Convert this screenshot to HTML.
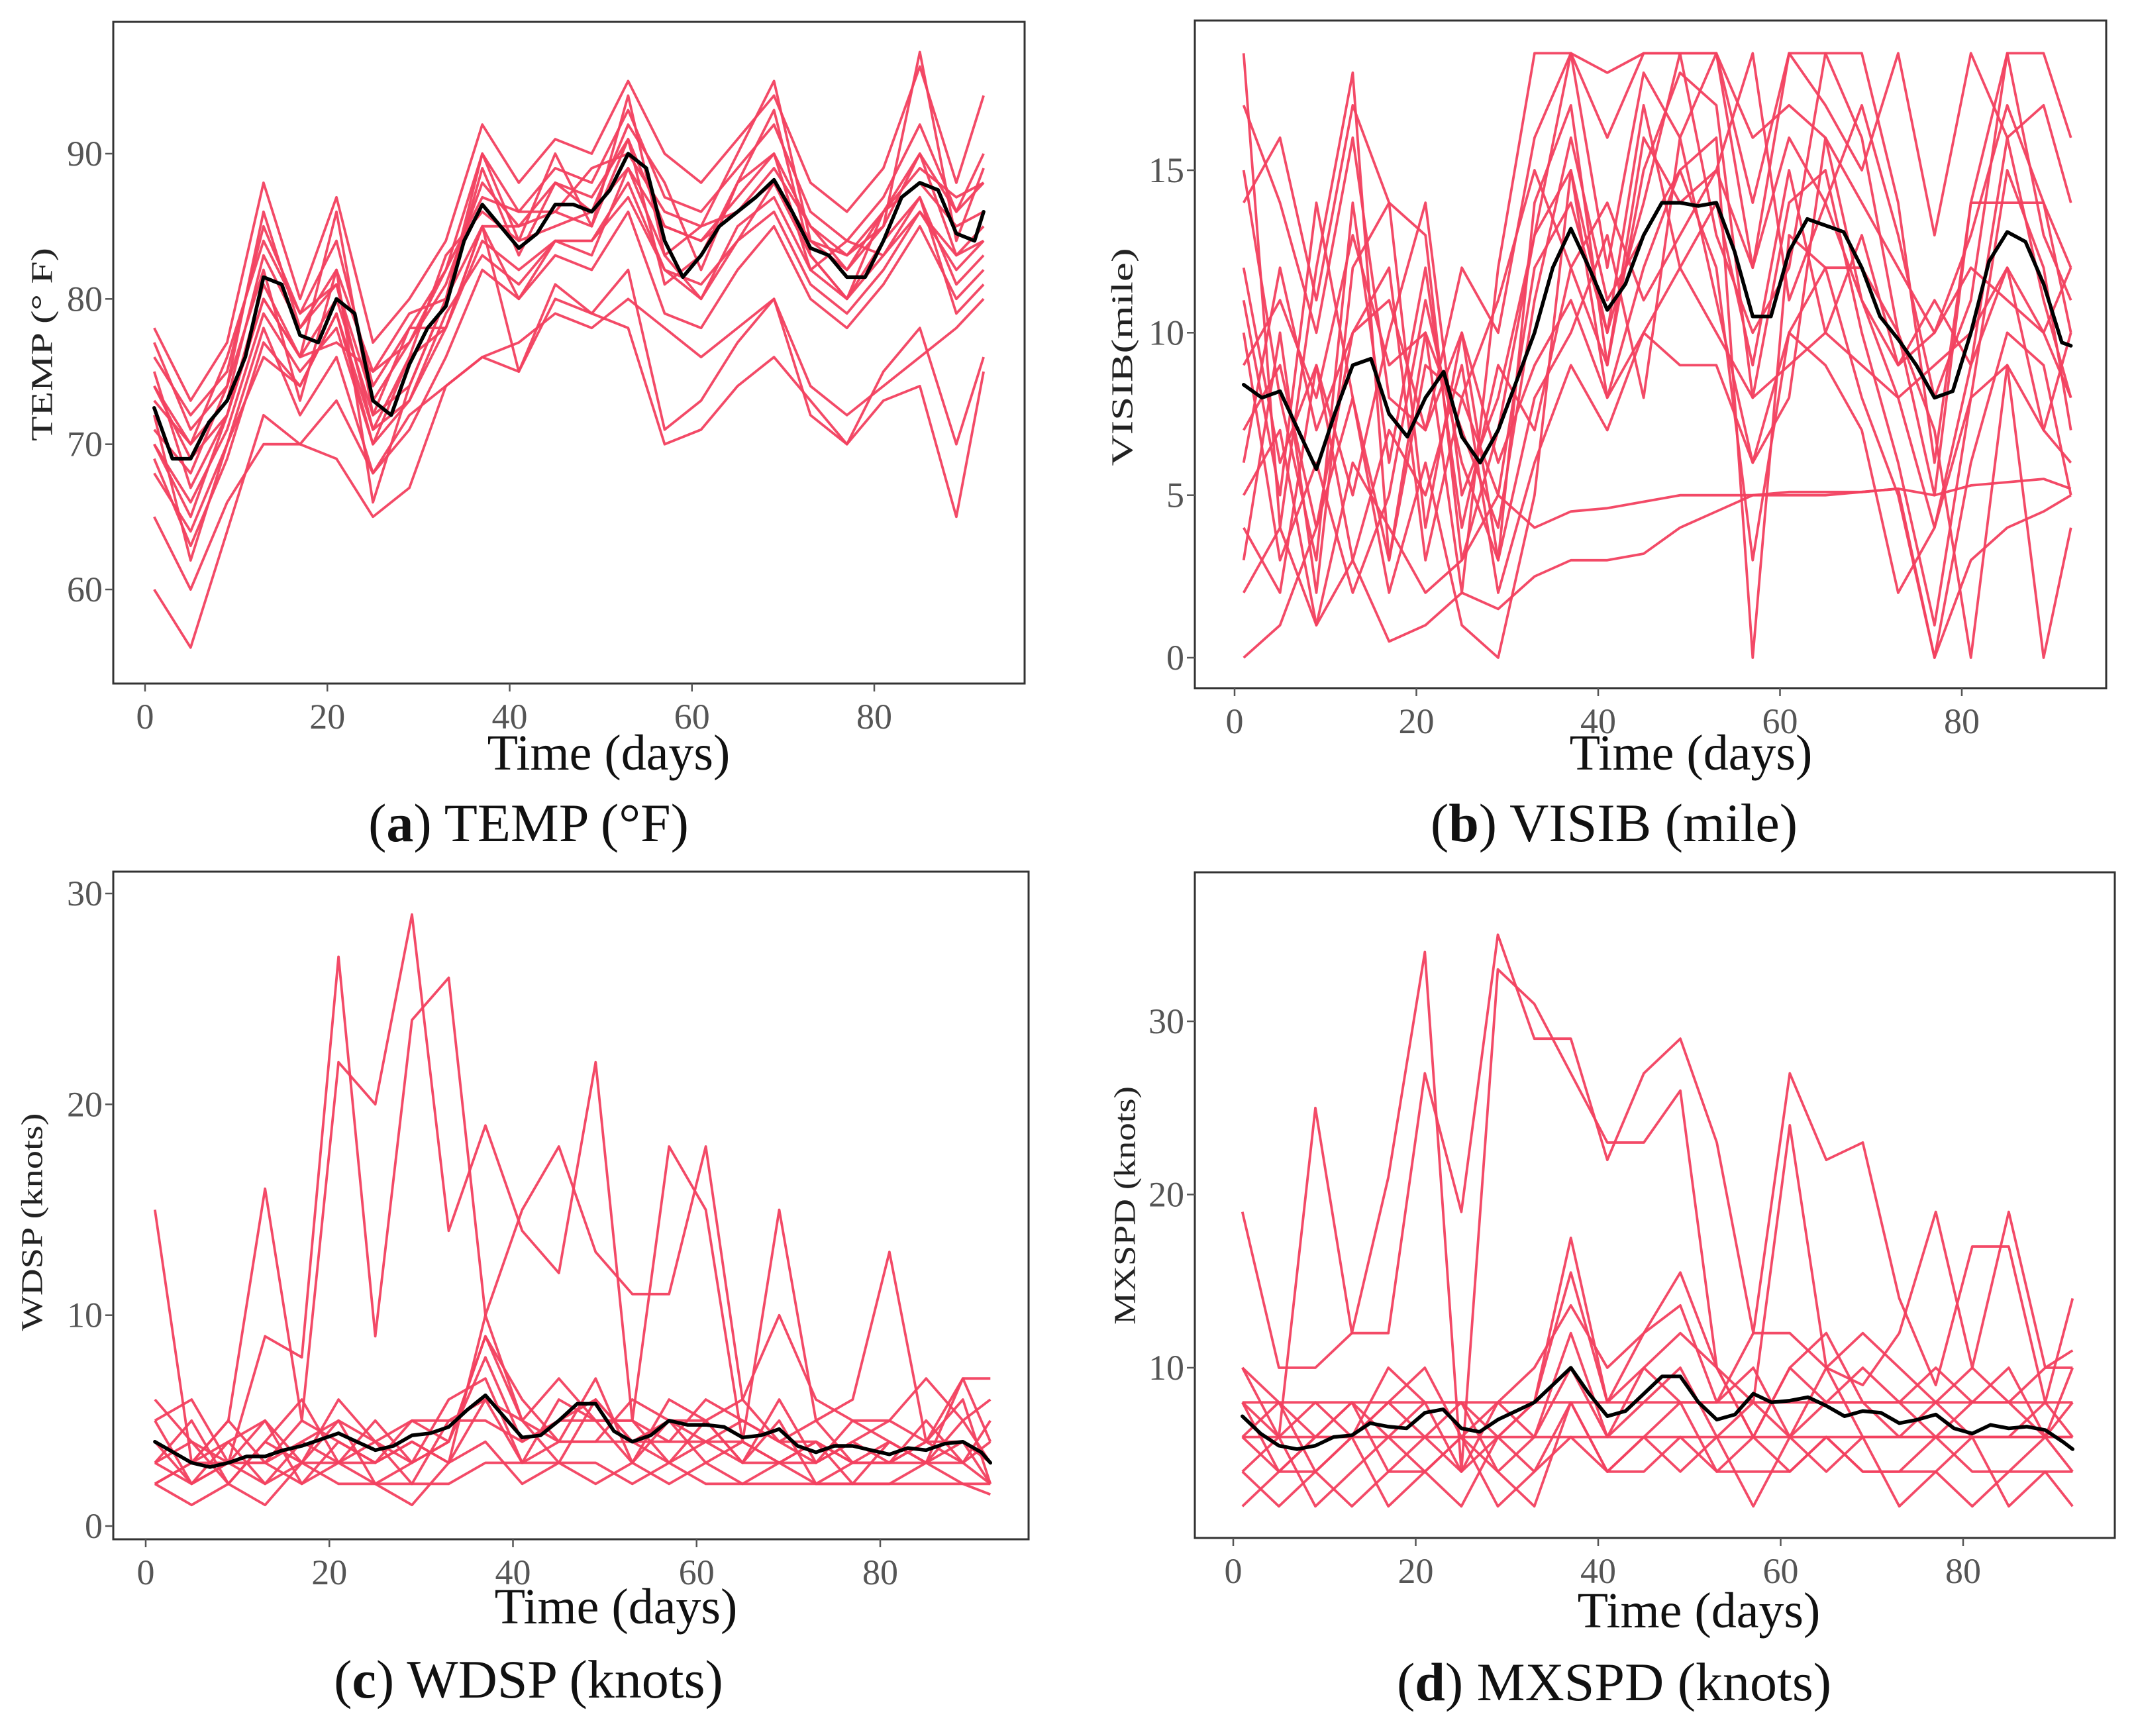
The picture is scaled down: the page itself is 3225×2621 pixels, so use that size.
<!DOCTYPE html>
<html><head><meta charset="utf-8"><style>
html,body{margin:0;padding:0;background:#fff;}
svg{display:block;}
text{font-family:"Liberation Serif",serif;}
</style></head><body>
<svg id="fig" width="3225" height="2621" viewBox="0 0 3225 2621" xmlns="http://www.w3.org/2000/svg"></svg>
<script>
// ---------- data ----------
const gridDays = [1,5,9,13,17,21,25,29,33,37,41,45,49,53,57,61,65,69,73,77,81,85,89,92];
const meanDays = [1,3,5,7,9,11,13,15,17,19,21,23,25,27,29,31,33,35,37,39,41,43,45,47,49,51,53,55,57,59,61,63,65,67,69,71,73,75,77,79,81,83,85,87,89,91,92];

const tempMean = [72.5,69,69,71.5,73,76,81.5,81,77.5,77,80,79,73,72,75.5,78,79.5,84,86.5,85,83.5,84.5,86.5,86.5,86,87.5,90,89,84,81.5,83,85,86,87,88.2,86,83.5,83,81.5,81.5,84,87,88,87.5,84.5,84,86];
const tempSeries = [
[76,72,75,85,79,84,74,78,82,90,86,89,88,93,87,86,89,92,86,84,87,92,86,90],
[70,66,71,79,75,78,70,73,78,84,82,84,84,88,82,80,84,86,81,79,82,86,82,84],
[78,73,77,88,80,87,77,80,84,92,88,91,90,95,90,88,91,94,88,86,89,96,88,94],
[68,64,70,78,72,76,68,71,76,82,80,83,82,86,79,78,82,85,80,78,81,85,80,82],
[74,70,73,83,78,82,75,77,81,88,85,88,87,91,85,84,87,90,85,82,85,90,86,88],
[60,56,64,72,70,69,65,67,74,76,75,80,79,82,71,73,77,80,72,70,75,78,70,76],
[75,67,72,80,76,86,72,74,80,89,83,88,86,92,88,82,88,93,83,80,86,90,83,85],
[72,62,70,76,74,79,70,76,78,85,80,84,83,89,83,80,85,87,82,80,83,87,81,83],
[73,70,76,84,79,81,73,77,82,87,86,86,89,90,86,85,86,89,85,83,86,89,87,88],
[65,60,66,70,70,73,68,72,74,76,77,79,78,80,78,76,78,80,74,72,74,76,78,80],
[71,68,74,82,73,82,66,74,80,90,84,90,85,94,83,85,90,95,84,83,85,97,84,89],
[69,63,69,77,74,79,71,73,79,83,81,84,84,87,82,81,84,88,83,80,84,87,79,81],
[77,71,74,86,78,81,71,76,83,86,84,85,86,89,85,84,86,88,84,82,86,88,85,86],
[74,69,72,81,76,80,72,78,78,85,75,81,79,78,70,71,74,76,73,70,73,74,65,75],
[70,65,72,80,76,77,75,79,80,85,85,86,85,91,81,83,88,90,82,84,83,86,83,84]
];

const visMean = [8.4,8,8.2,7,5.8,7.5,9,9.2,7.5,6.8,8,8.8,6.8,6,7,8.5,10,12,13.2,12,10.7,11.5,13,14,14,13.9,14,12.5,10.5,10.5,12.5,13.5,13.3,13.1,12,10.5,9.8,9,8,8.2,10,12.2,13.1,12.8,11.5,9.7,9.6];
const visSeries = [
[18.6,4,12,18,3,10,2,12,18.6,18.6,16,18.6,18.6,18.6,12,18.6,18.6,18.6,14,6,14,18.6,18.6,16],
[3,10,2,12,14,4,10,3,14,17,9,15,18,17,8,14,15,10,6,1,8,15,12,7],
[12,6,9,5,10,14,5,8,13,18.6,12,18,16,18.6,16,17,16,14,12,10,13,17,14,12],
[0,1,4,8,2,6,1,0,5,15,8,12,15,12,3,10,12,8,5,0,6,10,9,5],
[15,8,3,14,6,12,4,9,7,12,14,11,13,15,18.6,11,14,17,13,8,11,18.6,13,11],
[6,12,7,10,12,3,8,5,12,14,10,17,12,14,9,15,10,13,9,10,12,11,10,8],
[10,3,6,2,5,11,6,3,8,10,13,8,16,11,6,8,16,11,8,4,9,12,7,10],
[17,14,10,16,8,7,12,10,16,18.6,18,18.6,18.6,18.6,14,18.6,17,15,18.6,13,18.6,16,17,14],
[5,7,1,6,4,2,3,5,4,4.5,4.6,4.8,5,5,5,5.1,5.1,5.1,5.2,5,5.3,5.4,5.5,5.2],
[2,4,1,3,0.5,1,2,1.5,2.5,3,3,3.2,4,4.5,5,5,5,5.1,5.2,0,3,4,4.5,5],
[9,11,8,13,9,10,7,4,11,16,11,13,15,16,0,13,12,12,10,7,0,9,0,4],
[11,5,14,8,3,9,8,11,15,12,9,16,14,15,12,16,14,11,9,11,9,16,11,8],
[7,9,4,10,11,7,10,6,9,11,8,10,12,10,8,9,10,9,8,9,10,12,10,12],
[14,16,11,17,14,13,3,7,13,15,10,14,18.6,13,10,12,18.6,16,10,5,14,14,14,10],
[4,2,9,3,7,5,9,2,6,9,7,10,9,9,6,10,9,7,2,4,8,9,7,6]
];

const wdspMean = [4,3.5,3,2.8,3,3.3,3.3,3.6,3.8,4.1,4.4,4,3.6,3.8,4.3,4.4,4.7,5.5,6.2,5.2,4.2,4.3,5,5.8,5.8,4.5,4,4.3,5,4.8,4.8,4.7,4.2,4.3,4.6,3.8,3.5,3.8,3.8,3.6,3.4,3.7,3.6,3.9,4,3.5,3];
const wdspSeries = [
[15,3,5,16,5,22,20,29,14,19,14,12,22,5,18,15,4,15,5,6,13,4,7,7],
[5,6,3,9,8,27,9,24,26,10,15,18,13,11,11,18,6,10,6,5,5,7,5,6],
[4,2,3,3,5,4,3,5,4,9,6,4,7,3,6,5,3,6,3,4,3,4,3,5],
[3,4,2,4,3,5,2,3,4,8,4,5,6,4,5,4,4,3,4,2,4,3,4,2],
[2,3,4,2,4,3,4,2,5,6,3,6,5,5,3,5,3,5,2,3,4,3,5,3],
[5,2,3,3,2,4,3,4,3,10,5,3,6,4,4,6,5,4,5,3,3,5,3,4],
[3,5,2,4,6,3,5,3,6,7,3,4,4,6,5,3,4,3,3,4,5,4,6,2],
[2,1,2,1,3,2,2,1,3,4,2,3,3,2,3,2,2,3,2,2,2,2,2,1.5],
[4,3,5,3,4,5,4,5,5,5,4,5,5,5,4,4,5,4,4,3,3,4,4,3],
[6,4,3,5,3,6,4,3,4,9,5,7,5,3,5,5,6,4,3,5,4,3,7,4],
[3,2,4,5,2,3,3,4,3,6,5,4,4,4,3,4,3,3,4,3,3,3,3,2],
[2,3,3,2,3,3,2,2,2,3,3,3,2,3,2,3,2,2,2,2,2,3,2,2]
];

const mxMean = [7.2,6.2,5.5,5.3,5.5,6,6.1,6.8,6.6,6.5,7.4,7.6,6.5,6.3,7,7.5,8,9,10,8.5,7.2,7.5,8.5,9.5,9.5,8,7,7.3,8.5,8,8.1,8.3,7.8,7.2,7.5,7.4,6.8,7,7.3,6.5,6.2,6.7,6.5,6.6,6.4,5.7,5.3];
const mxSeries = [
[19,10,10,12,12,27,19,35,29,29,22,27,29,23,12,27,22,23,14,9,17,17,8,14],
[10,6,25,12,21,34,4,33,31,27,23,23,26,10,8,24,10,9,12,19,10,19,10,11],
[8,4,6,8,6,8,4,6,8,17.5,8,12,15.5,10,6,10,8,10,8,6,8,10,6,8],
[6,8,4,6,8,6,8,4,6,10,6,8,10,6,8,6,10,6,6,8,6,6,8,6],
[4,6,2,4,6,4,6,2,4,8,4,6,8,4,6,4,6,4,4,6,4,4,6,4],
[8,6,8,6,8,10,6,8,10,13.6,10,12,13.6,8,12,12,10,12,10,8,10,8,10,10],
[6,4,6,8,4,6,4,8,6,12,6,10,8,8,10,6,8,8,6,6,6,6,6,6],
[2,4,4,2,4,4,2,6,4,6,4,4,6,4,4,4,6,4,4,4,2,4,4,4],
[10,8,6,6,10,8,8,6,8,15.5,8,10,12,10,6,10,12,8,8,10,8,8,6,10],
[6,6,6,6,6,6,6,6,6,6,6,6,6,6,6,6,6,6,6,6,6,6,6,6],
[8,8,8,8,8,8,8,8,8,8,8,8,8,8,8,8,8,8,8,8,8,8,8,8],
[4,2,4,6,2,4,6,4,2,8,4,6,4,6,2,6,4,6,2,4,6,2,4,2]
];

const xTicks = [0,20,40,60,80];
const tempTicks = [60,70,80,90];
const visTicks = [0,5,10,15];
const wdspTicks = [0,10,20,30];
const mxTicks = [10,20,30];

// ---------- drawing ----------
const NS = "http://www.w3.org/2000/svg";
const svg = document.getElementById('fig');
function mk(tag, attrs, parent){
  const e = document.createElementNS(NS, tag);
  for (const k in attrs) e.setAttribute(k, attrs[k]);
  (parent||svg).appendChild(e);
  return e;
}

const panels = [
 {id:'temp', box:[171,33,1547,1032], x0:219, x80:1320, yA:[90,232], yB:[60,890], ticks:tempTicks, series:tempSeries, mean:tempMean,
  ytitle:'TEMP (°  F)', ytlen:292, ytx:68, yty:520, xtitle:[919,1162], cap:[798,1270], capL:'a', capR:' TEMP (°F)'},
 {id:'visib', box:[1804,31,3180,1039], x0:1864, x80:2962, yA:[15,257], yB:[0,993], ticks:visTicks, series:visSeries, mean:visMean,
  ytitle:'VISIB(mile)', ytlen:329, ytx:1699, yty:539, xtitle:[2553,1162], cap:[2437,1270], capL:'b', capR:' VISIB (mile)'},
 {id:'wdsp', box:[171,1316,1553,2324], x0:220, x80:1329, yA:[30,1349], yB:[0,2304], ticks:wdspTicks, series:wdspSeries, mean:wdspMean,
  ytitle:'WDSP (knots)', ytlen:329, ytx:53, yty:1845, xtitle:[930,2451], cap:[798,2563], capL:'c', capR:' WDSP (knots)'},
 {id:'mxspd', box:[1804,1317,3193,2322], x0:1862, x80:2964, yA:[30,1542], yB:[10,2065], ticks:mxTicks, series:mxSeries, mean:mxMean,
  ytitle:'MXSPD (knots)', ytlen:360, ytx:1703, yty:1820, xtitle:[2565,2457], cap:[2437,2567], capL:'d', capR:' MXSPD (knots)'}
];

panels.forEach(p=>{
  const g = mk('g',{});
  
  
  const xs = d => p.x0 + (d/80)*(p.x80-p.x0);
  const ys = v => p.yB[1] + (v - p.yB[0])*(p.yA[1]-p.yB[1])/(p.yA[0]-p.yB[0]);
  const [L,T,R,B] = p.box;
  const sg = mk('g',{}, g);
  
  
  p.series.forEach((s,i)=>{
    const pts = s.map((v,j)=> xs(gridDays[j]).toFixed(1)+','+ys(v).toFixed(1)).join(' ');
    const pl = mk('polyline',{points:pts, fill:'none', stroke:'#f2405f', 'stroke-width':3.8, 'stroke-linejoin':'round', opacity:0.95}, sg);
    
    
  });
  const mpts = p.mean.map((v,j)=> xs(meanDays[j]).toFixed(1)+','+ys(v).toFixed(1)).join(' ');
  const ml = mk('polyline',{points:mpts, fill:'none', stroke:'#000', 'stroke-width':5.5, 'stroke-linejoin':'round','stroke-linecap':'round'}, g);
  
  
  const bx = mk('rect',{x:L,y:T,width:R-L,height:B-T,fill:'none',stroke:'#333','stroke-width':3}, g);
  
  
  xTicks.forEach(t=>{
    const x = xs(t);
    mk('line',{x1:x,x2:x,y1:B,y2:B+12,stroke:'#555','stroke-width':2.5}, g);
    const tx = mk('text',{x:x,y:B+68,'text-anchor':'middle','font-size':54,fill:'#555'}, g);
    tx.textContent = t;
    
    
  });
  p.ticks.forEach(t=>{
    const y = ys(t);
    mk('line',{x1:L-12,x2:L,y1:y,y2:y,stroke:'#555','stroke-width':2.5}, g);
    const tx = mk('text',{x:L-16,y:y+18,'text-anchor':'end','font-size':54,fill:'#555'}, g);
    tx.textContent = t;
    
    
  });
  const yt = mk('text',{x:p.ytx,y:p.yty,'text-anchor':'middle','font-size':46,fill:'#222',textLength:p.ytlen,lengthAdjust:'spacingAndGlyphs',transform:`rotate(-90 ${p.ytx} ${p.yty})`,'dominant-baseline':'middle'}, g);
  yt.textContent = p.ytitle;
  
  
  const xt = mk('text',{x:p.xtitle[0],y:p.xtitle[1],'text-anchor':'middle','font-size':76,fill:'#111'}, g);
  xt.textContent = 'Time (days)';
  
  
  const cap = mk('text',{x:p.cap[0],y:p.cap[1],'text-anchor':'middle','font-size':82,fill:'#111'}, g);
  
  
  const t1 = mk('tspan',{}, cap); t1.textContent='(';
  const t2 = mk('tspan',{'font-weight':'bold'}, cap); t2.textContent=p.capL;
  const t3 = mk('tspan',{}, cap); t3.textContent=')'+p.capR;
});
</script>
</body></html>
